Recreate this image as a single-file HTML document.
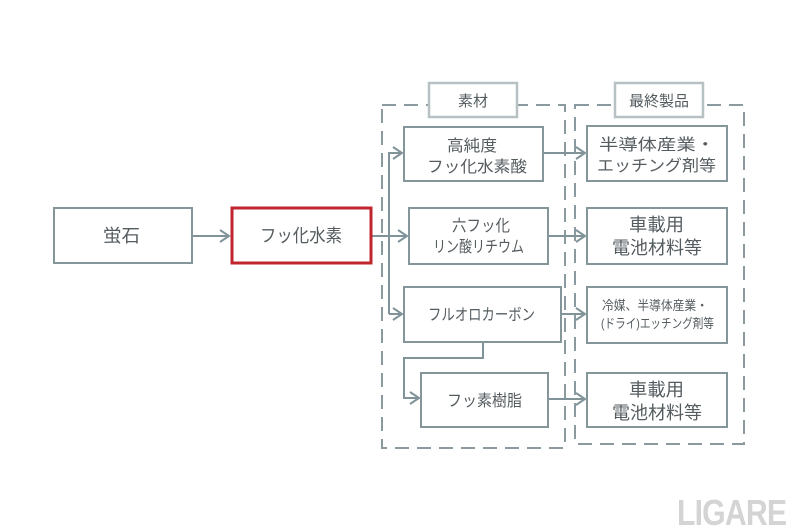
<!DOCTYPE html>
<html><head><meta charset="utf-8">
<style>
html,body{margin:0;padding:0;background:#fff;}
svg{display:block;}
text{font-family:"Liberation Sans","Noto Sans CJK JP",sans-serif;fill:#555c60;}
</style></head>
<body>
<svg width="800" height="532" viewBox="0 0 800 532" xmlns="http://www.w3.org/2000/svg">
<defs>
<marker id="ah" markerWidth="12" markerHeight="14" refX="10" refY="7" orient="auto" markerUnits="userSpaceOnUse">
<path d="M1,1 L10,7 L1,13" fill="none" stroke="#7f9399" stroke-width="2"/>
</marker>
</defs>
<rect width="800" height="532" fill="#fff"/>

<!-- dashed group boxes -->
<g fill="none" stroke="#8a9a9f" stroke-width="2" stroke-dasharray="14,8">
<rect x="382" y="105" width="183" height="343"/>
<rect x="575" y="105" width="169" height="339"/>
</g>
<!-- group labels -->
<rect x="429" y="83" width="88" height="34" fill="#fff" stroke="#b7c1c4" stroke-width="2.5"/>
<text x="473" y="106" font-size="15" text-anchor="middle">素材</text>
<rect x="615" y="83" width="88" height="34" fill="#fff" stroke="#b7c1c4" stroke-width="2.5"/>
<text x="659" y="106" font-size="15" text-anchor="middle">最終製品</text>

<!-- connectors -->
<g fill="none" stroke="#7f9399" stroke-width="2">
<line x1="193" y1="236" x2="229" y2="236" marker-end="url(#ah)"/>
<line x1="371" y1="236" x2="407" y2="236" marker-end="url(#ah)"/>
<polyline points="389,314 389,153 402,153" marker-end="url(#ah)"/>
<line x1="389" y1="314" x2="402" y2="314" marker-end="url(#ah)"/>
<polyline points="483,342 483,358 404,358 404,398 419,398" marker-end="url(#ah)"/>
<line x1="543" y1="153" x2="585" y2="153" marker-end="url(#ah)"/>
<line x1="548" y1="236" x2="585" y2="236" marker-end="url(#ah)"/>
<line x1="561" y1="314" x2="585" y2="314" marker-end="url(#ah)"/>
<line x1="548" y1="399" x2="585" y2="399" marker-end="url(#ah)"/>
</g>

<!-- boxes -->
<g fill="#fff" stroke="#849699" stroke-width="2">
<rect x="54" y="208" width="138" height="55"/>
<rect x="404" y="127" width="139" height="54"/>
<rect x="409" y="208" width="139" height="56"/>
<rect x="404" y="287" width="157" height="55"/>
<rect x="421" y="373" width="127" height="54"/>
<rect x="587" y="126" width="140" height="55"/>
<rect x="587" y="208" width="140" height="56"/>
<rect x="587" y="287" width="140" height="56"/>
<rect x="587" y="373" width="140" height="54"/>
</g>
<rect x="232" y="208" width="139" height="55" fill="#fff" stroke="#c0262d" stroke-width="3"/>

<!-- labels -->
<g font-size="18">
<text x="103" y="242" textLength="37" lengthAdjust="spacingAndGlyphs">蛍石</text>
<text x="260" y="242" textLength="82" lengthAdjust="spacingAndGlyphs">フッ化水素</text>
</g>
<g font-size="16">
<text x="447" y="151" textLength="50" lengthAdjust="spacingAndGlyphs">高純度</text>
<text x="427" y="172" textLength="100" lengthAdjust="spacingAndGlyphs">フッ化水素酸</text>
<text x="452" y="231" textLength="58" lengthAdjust="spacingAndGlyphs">六フッ化</text>
<text x="433" y="252" textLength="91" lengthAdjust="spacingAndGlyphs">リン酸リチウム</text>
<text x="428" y="320" textLength="107" lengthAdjust="spacingAndGlyphs">フルオロカーボン</text>
<text x="447" y="406" textLength="75" lengthAdjust="spacingAndGlyphs">フッ素樹脂</text>
<text x="599" y="150" textLength="116" lengthAdjust="spacingAndGlyphs">半導体産業・</text>
<text x="597" y="171" textLength="119" lengthAdjust="spacingAndGlyphs">エッチング剤等</text>
</g>
<g font-size="18">
<text x="629" y="231" textLength="55" lengthAdjust="spacingAndGlyphs">車載用</text>
<text x="612" y="254" textLength="90" lengthAdjust="spacingAndGlyphs">電池材料等</text>
<text x="629" y="396" textLength="55" lengthAdjust="spacingAndGlyphs">車載用</text>
<text x="612" y="419" textLength="90" lengthAdjust="spacingAndGlyphs">電池材料等</text>
</g>
<g font-size="13">
<text x="602" y="310" textLength="106" lengthAdjust="spacingAndGlyphs">冷媒、半導体産業・</text>
<text x="601" y="328" textLength="113" lengthAdjust="spacingAndGlyphs">(ドライ)エッチング剤等</text>
</g>

<!-- watermark -->
<text x="0" y="0" font-size="36" font-weight="bold" style="fill:#d4d4d4" transform="translate(677,525) scale(0.84,1)" letter-spacing="-1">LIGARE</text>
</svg>
</body></html>
